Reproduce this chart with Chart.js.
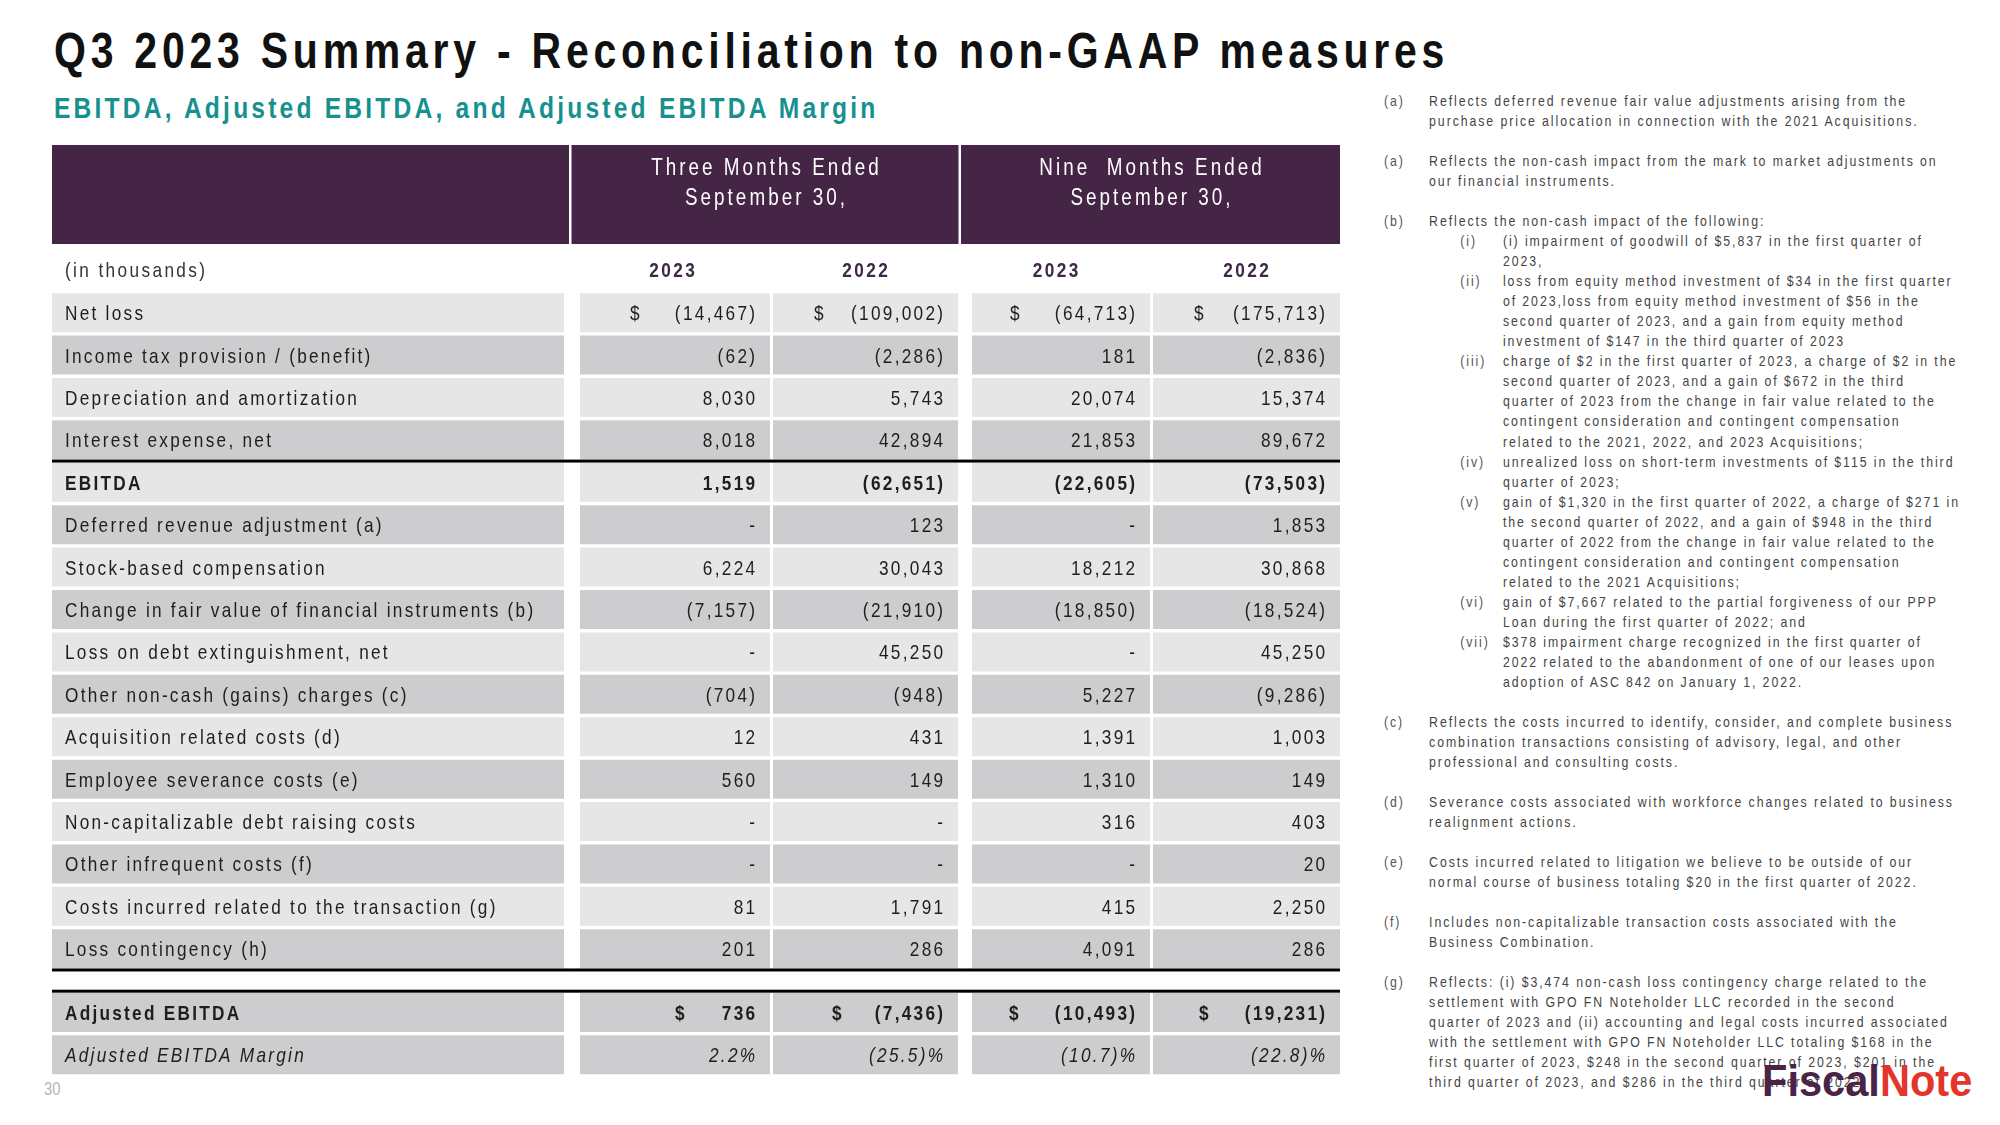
<!DOCTYPE html>
<html>
<head>
<meta charset="utf-8">
<script src="https://cdn.jsdelivr.net/npm/chart.js@4.4.0/dist/chart.umd.min.js"></script>
<style>
  body { margin: 0; background: #fff; }
  #page { position: relative; width: 2000px; height: 1125px; overflow: hidden; background: #fff;
          font-family: 'Liberation Sans', Arial, sans-serif; }
  .narrow { transform: scaleX(0.82); transform-origin: 0 0; }
  #title { position: absolute; left: 54px; top: 26px; font-size: 50px; line-height: 50px; font-weight: bold;
           letter-spacing: 5.8px; color: #111; white-space: nowrap; }
  #subtitle { position: absolute; left: 54px; top: 93px; font-size: 30px; line-height: 30px; font-weight: bold;
              letter-spacing: 3.9px; color: #17918f; white-space: nowrap; }
  #tableWrap { position: absolute; left: 52px; top: 143px; width: 1288px; height: 933px; }
  #notes { position: absolute; left: 1384px; top: 91px; font-size: 15px; line-height: 20.03px; color: #444;
           letter-spacing: 2.35px; white-space: nowrap; }
  .note { position: relative; padding-left: 55px; margin-bottom: 20.03px; }
  .note > .lbl { position: absolute; left: 0; top: 0; color: #555; }
  .sub { position: relative; padding-left: 90px; }
  .sub > .lbl { position: absolute; left: 38px; top: 0; color: #555; }
  #pageNum { position: absolute; left: 44px; top: 1080px; font-size: 18px; line-height: 18px; color: #b5b5b5; }
  #logo { position: absolute; left: 1762px; top: 1059px; font-size: 44px; line-height: 44px; font-weight: bold;
          white-space: nowrap; transform: scaleX(0.945); transform-origin: 0 0; }
  #logo .a { color: #4a2346; }
  #logo .b { color: #e2352b; }
</style>
</head>
<body>
<div id="page">
  <div id="title" class="narrow">Q3 2023 Summary - Reconciliation to non-GAAP measures</div>
  <div id="subtitle" class="narrow">EBITDA, Adjusted EBITDA, and Adjusted EBITDA Margin</div>
  <div id="tableWrap"><canvas id="recon" width="1288" height="933"></canvas></div>

  <div id="notes" class="narrow">
    <div class="note"><span class="lbl">(a)</span>Reflects deferred revenue fair value adjustments arising from the<br>purchase price allocation in connection with the 2021 Acquisitions.</div>
    <div class="note"><span class="lbl">(a)</span>Reflects the non-cash impact from the mark to market adjustments on<br>our financial instruments.</div>
    <div class="note"><span class="lbl">(b)</span>Reflects the non-cash impact of the following:
      <div class="sub"><span class="lbl">(i)</span>(i) impairment of goodwill of $5,837 in the first quarter of<br>2023,</div>
      <div class="sub"><span class="lbl">(ii)</span>loss from equity method investment of $34 in the first quarter<br>of 2023,loss from equity method investment of $56 in the<br>second quarter of 2023, and a gain from equity method<br>investment of $147 in the third quarter of 2023</div>
      <div class="sub"><span class="lbl">(iii)</span>charge of $2 in the first quarter of 2023, a charge of $2 in the<br>second quarter of 2023, and a gain of $672 in the third<br>quarter of 2023 from the change in fair value related to the<br>contingent consideration and contingent compensation<br>related to the 2021, 2022, and 2023 Acquisitions;</div>
      <div class="sub"><span class="lbl">(iv)</span>unrealized loss on short-term investments of $115 in the third<br>quarter of 2023;</div>
      <div class="sub"><span class="lbl">(v)</span>gain of $1,320 in the first quarter of 2022, a charge of $271 in<br>the second quarter of 2022, and a gain of $948 in the third<br>quarter of 2022 from the change in fair value related to the<br>contingent consideration and contingent compensation<br>related to the 2021 Acquisitions;</div>
      <div class="sub"><span class="lbl">(vi)</span>gain of $7,667 related to the partial forgiveness of our PPP<br>Loan during the first quarter of 2022; and</div>
      <div class="sub"><span class="lbl">(vii)</span>$378 impairment charge recognized in the first quarter of<br>2022 related to the abandonment of one of our leases upon<br>adoption of ASC 842 on January 1, 2022.</div>
    </div>
    <div class="note"><span class="lbl">(c)</span>Reflects the costs incurred to identify, consider, and complete business<br>combination transactions consisting of advisory, legal, and other<br>professional and consulting costs.</div>
    <div class="note"><span class="lbl">(d)</span>Severance costs associated with workforce changes related to business<br>realignment actions.</div>
    <div class="note"><span class="lbl">(e)</span>Costs incurred related to litigation we believe to be outside of our<br>normal course of business totaling $20 in the first quarter of 2022.</div>
    <div class="note"><span class="lbl">(f)</span>Includes non-capitalizable transaction costs associated with the<br>Business Combination.</div>
    <div class="note"><span class="lbl">(g)</span>Reflects: (i) $3,474 non-cash loss contingency charge related to the<br>settlement with GPO FN Noteholder LLC recorded in the second<br>quarter of 2023 and (ii) accounting and legal costs incurred associated<br>with the settlement with GPO FN Noteholder LLC totaling $168 in the<br>first quarter of 2023, $248 in the second quarter of 2023, $201 in the<br>third quarter of 2023, and $286 in the third quarter of 2022.</div>
  </div>

  <div id="pageNum" class="narrow">30</div>
  <div id="logo"><span class="a">Fiscal</span><span class="b">Note</span></div>
</div>

<script>
// ---- data ----
const rowLabels = [
  'Net loss',
  'Income tax provision / (benefit)',
  'Depreciation and amortization',
  'Interest expense, net',
  'EBITDA',
  'Deferred revenue adjustment (a)',
  'Stock-based compensation',
  'Change in fair value of financial instruments (b)',
  'Loss on debt extinguishment, net',
  'Other non-cash (gains) charges (c)',
  'Acquisition related costs (d)',
  'Employee severance costs (e)',
  'Non-capitalizable debt raising costs',
  'Other infrequent costs (f)',
  'Costs incurred related to the transaction (g)',
  'Loss contingency (h)',
  'Adjusted EBITDA',
  'Adjusted EBITDA Margin'
];
const periodHeaders = [['Three Months Ended', 'September 30,'], ['Nine  Months Ended', 'September 30,']];
const yearLabels = ['2023', '2022', '2023', '2022'];
const unitLabel = '(in thousands)';

// null = "-"; last row is a percentage
const threeMonths2023 = [-14467, -62, 8030, 8018, 1519, null, 6224, -7157, null, -704, 12, 560, null, null, 81, 201, 736, 2.2];
const threeMonths2022 = [-109002, -2286, 5743, 42894, -62651, 123, 30043, -21910, 45250, -948, 431, 149, null, null, 1791, 286, -7436, -25.5];
const nineMonths2023 = [-64713, 181, 20074, 21853, -22605, null, 18212, -18850, null, 5227, 1391, 1310, 316, null, 415, 4091, -10493, -10.7];
const nineMonths2022 = [-175713, -2836, 15374, 89672, -73503, 1853, 30868, -18524, 45250, -9286, 1003, 149, 403, 20, 2250, 286, -19231, -22.8];

const boldRows = [4, 16];
const italicRows = [17];
const dollarRows = [0, 16];
const percentRows = [17];

// ---- layout ----
const FAM = "'Liberation Sans', Arial, sans-serif";
const SQUEEZE = 0.82;   // narrow face look
const COLS = [[0, 512], [528, 718], [721, 906], [920, 1098], [1101, 1288]];
const HEADER_SPANS = [[0, 517], [519.5, 906.5], [909, 1288]];
const YEAR_X = [620, 813, 1003.5, 1194];
const DOLLAR_OFFSET = { 0: [50, 41, 38, 41], 16: [95, 59, 37, 46] };
const LIGHT = '#e6e6e6', DARK = '#cdcdcf', PURPLE = '#452545';

const series = [threeMonths2023, threeMonths2022, nineMonths2023, nineMonths2022];
// 16 body rows, then a half-row gap before the adjusted rows
const rowPos = rowLabels.map((_, i) => i < 16 ? i : i + 0.5);

function stripe(i) {
  if (i === 16) return DARK;
  return i % 2 ? DARK : LIGHT;
}

function fmt(v, i) {
  if (v === null) return '-';
  const pct = percentRows.includes(i);
  const s = pct ? Math.abs(v).toFixed(1) : Math.abs(v).toLocaleString('en-US');
  if (pct) return v < 0 ? '(' + s + ')%' : s + '%';
  return v < 0 ? '(' + s + ')' : s;
}

// draws condensed text; ls is letter spacing before squeezing
function say(ctx, text, px, py, align, ls) {
  ctx.save();
  ctx.letterSpacing = ls + 'px';
  ctx.textAlign = align;
  let dx = 0;
  if (align === 'right') dx = ls * SQUEEZE * 0.6;
  if (align === 'center') dx = ls * SQUEEZE / 2;
  ctx.translate(px + dx, py);
  ctx.scale(SQUEEZE, 1);
  ctx.fillText(text, 0, 0);
  ctx.restore();
}

const tablePlugin = {
  id: 'tablePlugin',
  beforeDatasetsDraw(chart) {
    const { ctx, scales: { x, y } } = chart;
    const top = y.getPixelForValue(-3.953), bottom = y.getPixelForValue(-1.618);
    ctx.save();
    ctx.fillStyle = PURPLE;
    HEADER_SPANS.forEach(([a, b]) => {
      ctx.fillRect(x.getPixelForValue(a), top, x.getPixelForValue(b) - x.getPixelForValue(a), bottom - top);
    });
    ctx.restore();
  },
  afterDatasetsDraw(chart) {
    const { ctx, scales: { x, y } } = chart;
    ctx.save();
    ctx.textBaseline = 'alphabetic';

    // period headers
    ctx.fillStyle = '#ffffff';
    ctx.font = '23px ' + FAM;
    periodHeaders.forEach((lines, k) => {
      const span = HEADER_SPANS[k + 1];
      const cx = x.getPixelForValue((span[0] + span[1]) / 2);
      say(ctx, lines[0], cx, y.getPixelForValue(-3.44) + 8.2, 'center', 3.7);
      say(ctx, lines[1], cx, y.getPixelForValue(-2.743) + 8.2, 'center', 3.7);
    });

    // year row
    ctx.font = 'bold 21px ' + FAM;
    ctx.fillStyle = '#3d2945';
    yearLabels.forEach((lab, c) => {
      say(ctx, lab, x.getPixelForValue(YEAR_X[c]), y.getPixelForValue(-1.017) + 7.5, 'center', 3);
    });
    ctx.font = '21px ' + FAM;
    ctx.fillStyle = '#333';
    say(ctx, unitLabel, x.getPixelForValue(13), y.getPixelForValue(-1.017) + 7.5, 'left', 2.9);

    // body rows
    rowLabels.forEach((lab, i) => {
      const bold = boldRows.includes(i) ? 'bold ' : '';
      const ital = italicRows.includes(i) ? 'italic ' : '';
      ctx.font = ital + bold + '21px ' + FAM;
      ctx.fillStyle = '#1e1e1e';
      const by = y.getPixelForValue(rowPos[i]) + 7.5;
      say(ctx, lab, x.getPixelForValue(13), by, 'left', 2.75);
      series.forEach((vals, c) => {
        const col = COLS[c + 1];
        say(ctx, fmt(vals[i], i), x.getPixelForValue(col[1] - 14), by, 'right', 2.8);
        if (dollarRows.includes(i)) {
          say(ctx, '$', x.getPixelForValue(col[0] + DOLLAR_OFFSET[i][c]), by, 'left', 0);
        }
      });
    });

    // heavy rules
    ctx.fillStyle = '#000';
    [3.5, 15.5, 16.0].forEach(v => {
      ctx.fillRect(x.getPixelForValue(0), y.getPixelForValue(v) - 1.5, x.getPixelForValue(1288) - x.getPixelForValue(0), 3);
    });
    ctx.restore();
  }
};

const datasets = COLS.map(col => ({
  data: rowLabels.map((_, i) => ({ x: col, y: rowPos[i] })),
  backgroundColor: ctx => stripe(ctx.dataIndex),
  borderWidth: 0,
  grouped: false,
  barPercentage: 0.92,
  categoryPercentage: 1
}));

new Chart(document.getElementById('recon').getContext('2d'), {
  type: 'bar',
  data: { datasets },
  options: {
    indexAxis: 'y',
    responsive: false,
    animation: false,
    events: [],
    layout: { padding: 0 },
    scales: {
      x: { type: 'linear', min: 0, max: 1288, display: false },
      y: { type: 'linear', min: -4, max: 18, reverse: true, offset: false, display: false }
    },
    plugins: { legend: { display: false }, tooltip: { enabled: false } }
  },
  plugins: [tablePlugin]
});
</script>
</body>
</html>
